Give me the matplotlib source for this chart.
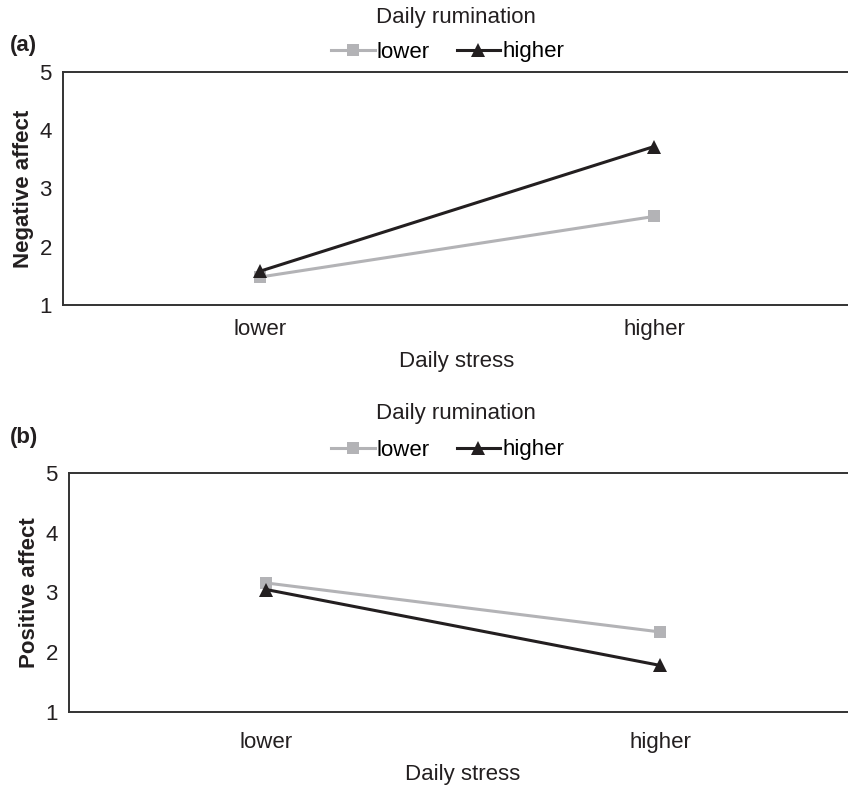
# Daily stress x daily rumination interaction plots, panels (a) and (b)
import numpy as np
import matplotlib.pyplot as plt

plt.rcParams['font.family'] = ['Liberation Sans', 'DejaVu Sans']

stress_levels = ["lower", "higher"]
series_names = ["lower", "higher"]

# panel (a): negative affect
neg_lower = [1.48, 2.52]
neg_higher = [1.58, 3.72]

# panel (b): positive affect
pos_lower = [3.16, 2.34]
pos_higher = [3.05, 1.78]

grey = "#b3b3b6"
dark = "#231f20"
spine_col = "#333333"
fs = 16

fig = plt.figure(figsize=(8.48, 7.85), dpi=100)

def draw_panel(rect, lower_vals, higher_vals, ylabel, tag, tag_y, title_y, leg_y, xpad):
    ax = fig.add_axes(rect)
    x = np.arange(len(stress_levels))
    l1, = ax.plot(x, lower_vals, color=grey, lw=2.2, marker="s", ms=8,
                  markeredgewidth=0, label=series_names[0])
    l2, = ax.plot(x, higher_vals, color=dark, lw=2.2, marker="^", ms=10,
                  markeredgewidth=0, label=series_names[1])
    ax.set_xlim(-0.5, 1.5)
    ax.set_ylim(1, 5)
    ax.set_yticks([1, 2, 3, 4, 5])
    ax.set_xticks(x)
    ax.set_xticklabels(stress_levels)
    ax.tick_params(length=0, labelsize=fs, colors=dark)
    ax.tick_params(axis="x", pad=xpad)
    ax.tick_params(axis="y", pad=8)
    ax.spines["right"].set_visible(False)
    for s in ["left", "top", "bottom"]:
        ax.spines[s].set_color(spine_col)
        ax.spines[s].set_linewidth(1.4)
    ax.set_xlabel("Daily stress", fontsize=fs, labelpad=8, color=dark)
    ax.set_ylabel(ylabel, fontsize=fs, fontweight="bold", labelpad=4, color=dark)
    fig.text(0.012, tag_y, tag, fontsize=fs, fontweight="bold", color=dark,
             va="center", ha="left")
    fig.text(0.538, title_y, "Daily rumination", fontsize=fs, color=dark,
             ha="center", va="center")
    fig.legend(handles=[l1, l2], loc="center", bbox_to_anchor=(0.528, leg_y),
               ncol=2, frameon=False, fontsize=fs, handlelength=1.95,
               handletextpad=0.1, columnspacing=1.2, borderpad=0, borderaxespad=0)
    return ax

ax1 = draw_panel([63/848, 1 - 305/785, 788/848, 233/785], neg_lower, neg_higher,
                 "Negative affect", "(a)", 1 - 45/785, 1 - 18/785, 1 - 52/785, 10)
ax2 = draw_panel([69/848, 1 - 712/785, 788/848, 239/785], pos_lower, pos_higher,
                 "Positive affect", "(b)", 1 - 437/785, 1 - 413/785, 1 - 450/785, 14.5)

plt.savefig("out.png", dpi=100)
plt.close()
print("done")
